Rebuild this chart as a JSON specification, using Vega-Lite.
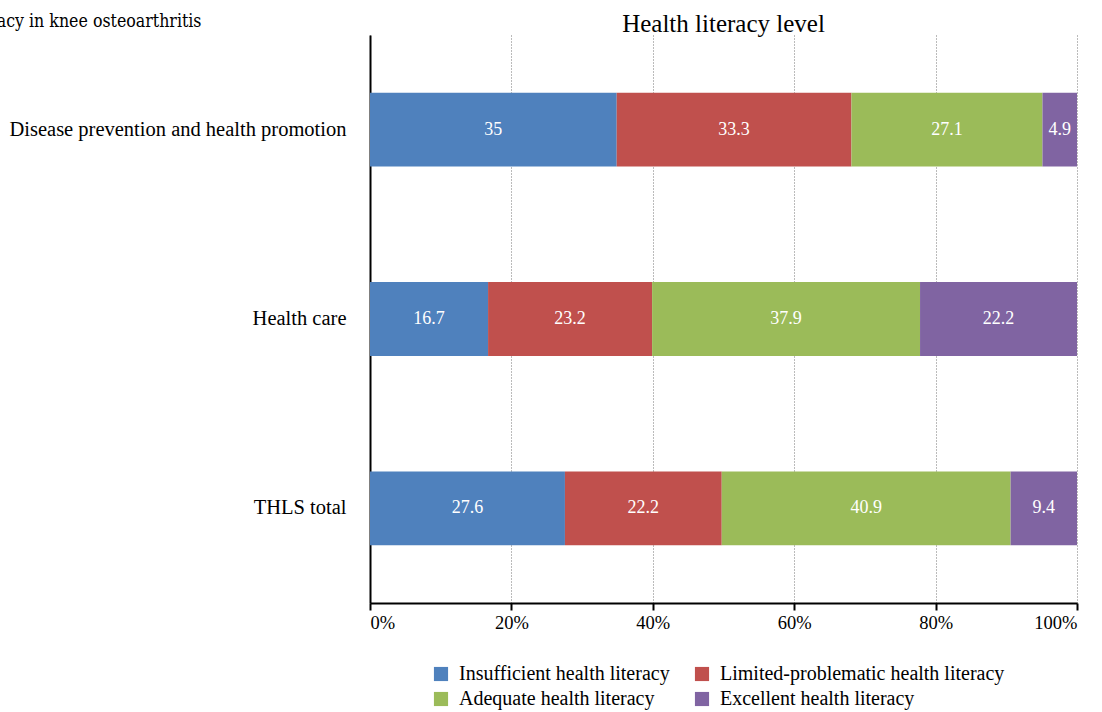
{
  "$schema": "https://vega.github.io/schema/vega-lite/v6.json",
  "width": 707,
  "height": 568,
  "autosize": {"type": "none"},
  "padding": {"left": 370, "top": 35, "right": 25, "bottom": 109},
  "background": "white",
  "title": {
    "text": "Health literacy level",
    "font": "Liberation Serif",
    "fontSize": 25,
    "fontWeight": "normal",
    "color": "black",
    "offset": 6,
    "dy": 31
  },
  "data": {
    "values": [
      {"domain": "Disease prevention and health promotion", "level": "Insufficient health literacy", "k": 1, "value": 35},
      {"domain": "Disease prevention and health promotion", "level": "Limited-problematic health literacy", "k": 2, "value": 33.3},
      {"domain": "Disease prevention and health promotion", "level": "Adequate health literacy", "k": 3, "value": 27.1},
      {"domain": "Disease prevention and health promotion", "level": "Excellent health literacy", "k": 4, "value": 4.9},
      {"domain": "Health care", "level": "Insufficient health literacy", "k": 1, "value": 16.7},
      {"domain": "Health care", "level": "Limited-problematic health literacy", "k": 2, "value": 23.2},
      {"domain": "Health care", "level": "Adequate health literacy", "k": 3, "value": 37.9},
      {"domain": "Health care", "level": "Excellent health literacy", "k": 4, "value": 22.2},
      {"domain": "THLS total", "level": "Insufficient health literacy", "k": 1, "value": 27.6},
      {"domain": "THLS total", "level": "Limited-problematic health literacy", "k": 2, "value": 22.2},
      {"domain": "THLS total", "level": "Adequate health literacy", "k": 3, "value": 40.9},
      {"domain": "THLS total", "level": "Excellent health literacy", "k": 4, "value": 9.4}
    ]
  },
  "encoding": {
    "y": {
      "field": "domain",
      "type": "nominal",
      "sort": null,
      "scale": {"paddingInner": 0.61, "paddingOuter": 0.305},
      "axis": {
        "title": "Health literacy in knee osteoarthritis",
        "titleAngle": 0,
        "titleAlign": "right",
        "titleBaseline": "alphabetic",
        "titleX": -169,
        "titleY": -9,
        "titleFont": "DejaVu Serif Condensed",
        "titleFontSize": 17.6,
        "titleFontWeight": "normal",
        "titleColor": "black",
        "labelFont": "Liberation Serif",
        "labelFontSize": 20.5,
        "labelColor": "black",
        "labelPadding": 24,
        "labelLimit": 400,
        "ticks": false,
        "domainColor": "black",
        "domainWidth": 2,
        "grid": false
      }
    }
  },
  "layer": [
    {
      "mark": {"type": "bar"},
      "encoding": {
        "x": {
          "field": "value",
          "type": "quantitative",
          "stack": "normalize",
          "scale": {"domain": [0, 1], "nice": false},
          "axis": {
            "title": null,
            "format": ".0%",
            "values": [0, 0.2, 0.4, 0.6, 0.8, 1],
            "labelFont": "Liberation Serif",
            "labelFontSize": 18.5,
            "labelColor": "black",
            "labelPadding": 3,
            "tickColor": "black",
            "tickWidth": 2,
            "tickSize": 7,
            "domainColor": "black",
            "domainWidth": 2,
            "grid": true,
            "gridColor": "#777777",
            "gridDash": [1, 2],
            "gridWidth": 1
          }
        },
        "color": {
          "field": "level",
          "type": "nominal",
          "scale": {
            "domain": ["Insufficient health literacy", "Limited-problematic health literacy", "Adequate health literacy", "Excellent health literacy"],
            "range": ["#4F81BD", "#C0504D", "#9BBB59", "#8064A2"]
          },
          "legend": {
            "title": null,
            "orient": "none",
            "legendX": 61,
            "legendY": 629,
            "direction": "horizontal",
            "columns": 2,
            "columnPadding": 22,
            "rowPadding": 5,
            "symbolType": "square",
            "symbolSize": 200,
            "symbolStrokeWidth": 0,
            "symbolOpacity": 1,
            "labelFont": "Liberation Serif",
            "labelFontSize": 20,
            "labelColor": "black",
            "labelOffset": 8,
            "labelLimit": 400
          }
        },
        "order": {"field": "k", "type": "quantitative"}
      }
    },
    {
      "mark": {"type": "text", "color": "white", "font": "Liberation Serif", "fontSize": 18, "align": "center", "baseline": "middle"},
      "encoding": {
        "x": {"field": "value", "type": "quantitative", "stack": "normalize", "bandPosition": 0.5},
        "text": {"field": "value", "type": "quantitative"},
        "detail": {"field": "level", "type": "nominal"},
        "order": {"field": "k", "type": "quantitative"}
      }
    }
  ],
  "config": {
    "view": {"stroke": null}
  }
}
